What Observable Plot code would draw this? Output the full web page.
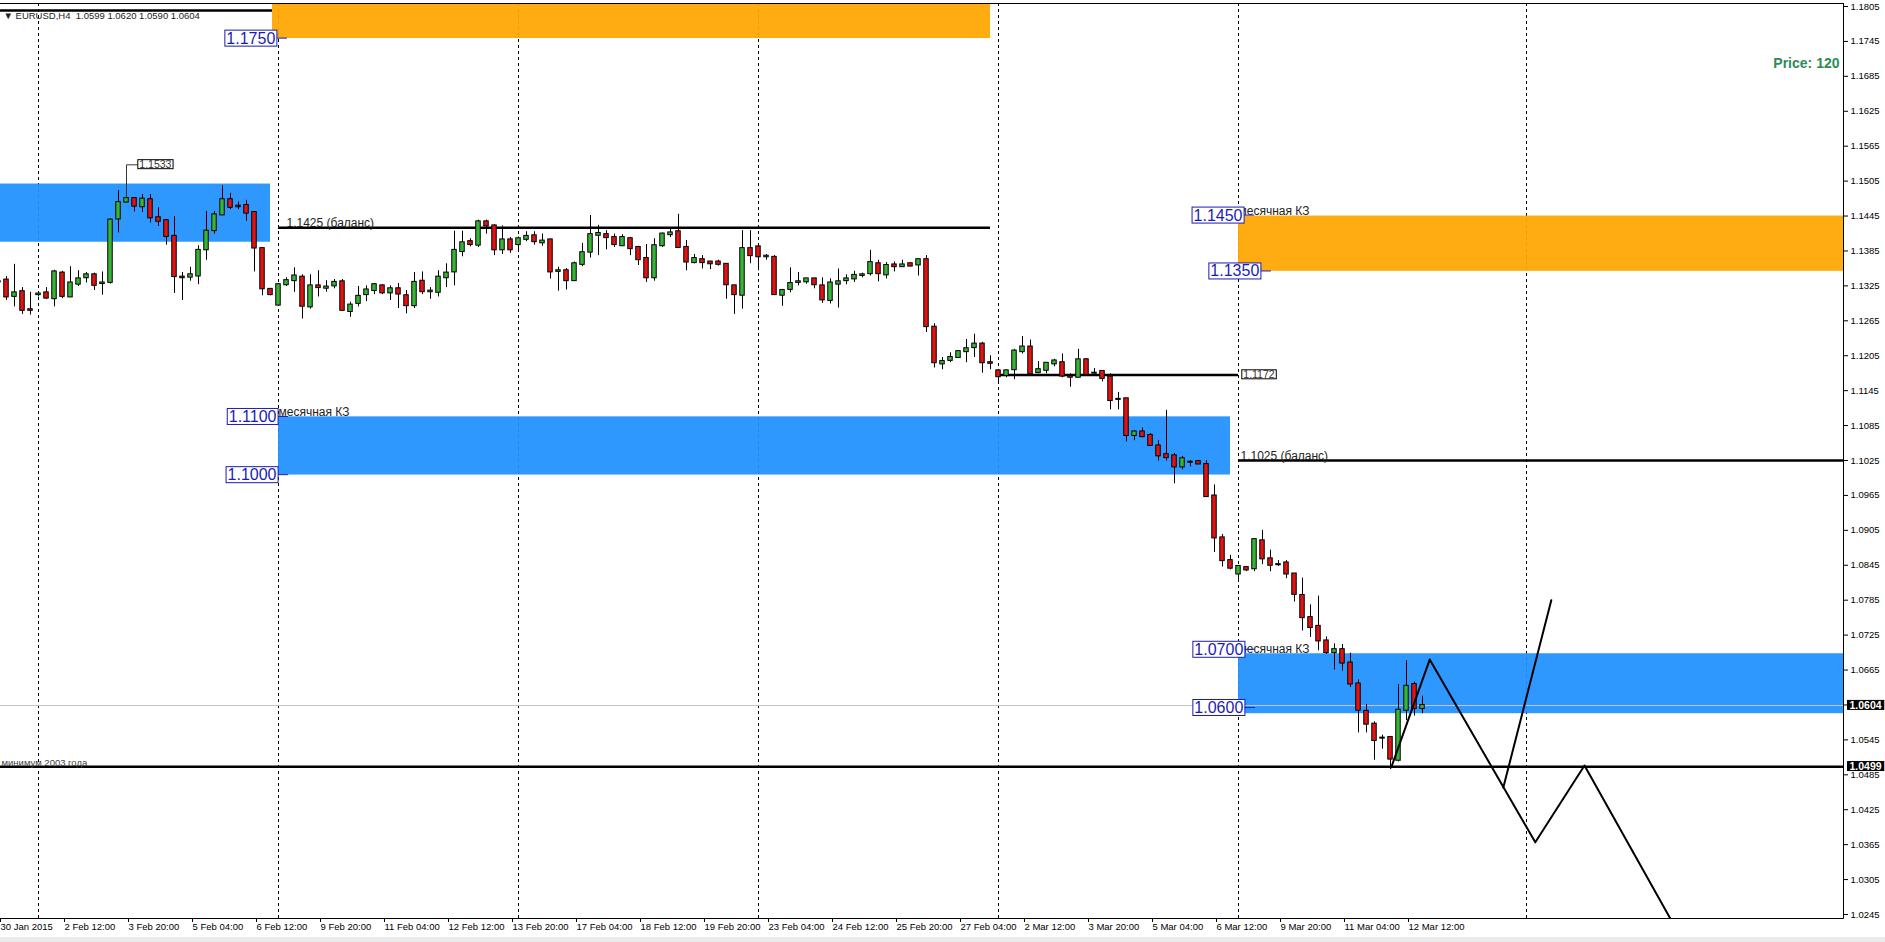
<!DOCTYPE html>
<html><head><meta charset="utf-8">
<script src="https://cdn.jsdelivr.net/npm/d3@7"></script>
<script src="https://cdn.jsdelivr.net/npm/@observablehq/plot@0.6"></script>
<style>
html,body{margin:0;padding:0;background:#fff;overflow:hidden}
#chart svg{display:block}
</style></head><body>
<div id="chart"></div>
<script>
// ---- Data: EURUSD H4, bar index 0 = 2 Feb 2015 00:00 ----
const symbol = "EURUSD,H4";
const firstBar = -5;
const opens = [
1.1332,1.1335,1.1307,1.1315,1.1284,1.1310,1.1313,1.1303,1.1347,1.1306,
1.1328,1.1339,1.1344,1.1329,1.1331,1.1440,1.1469,1.1475,1.1461,1.1473,
1.1442,1.1437,1.1410,1.1340,1.1340,1.1342,1.1387,1.1420,1.1447,1.1473,
1.1462,1.1463,1.1451,1.1389,1.1319,1.1292,1.1327,1.1334,1.1340,1.1289,
1.1325,1.1321,1.1325,1.1332,1.1281,1.1295,1.1310,1.1317,1.1325,1.1313,
1.1320,1.1308,1.1291,1.1333,1.1315,1.1314,1.1339,1.1349,1.1384,1.1401,
1.1395,1.1435,1.1428,1.1387,1.1404,1.1396,1.1405,1.1411,1.1399,1.1404,
1.1350,1.1351,1.1334,1.1362,1.1383,1.1412,1.1413,1.1408,1.1394,1.1406,
1.1391,1.1372,1.1339,1.1394,1.1413,1.1418,1.1391,1.1365,1.1370,1.1366,
1.1366,1.1362,1.1325,1.1309,1.1389,1.1392,1.1375,1.1374,1.1309,1.1319,
1.1331,1.1332,1.1337,1.1325,1.1300,1.1328,1.1334,1.1337,1.1343,1.1346,
1.1363,1.1344,1.1361,1.1358,1.1363,1.1361,1.1370,1.1254,1.1191,1.1197,
1.1202,1.1212,1.1219,1.1225,1.1193,1.1179,1.1171,1.1181,1.1212,1.1220,
1.1176,1.1180,1.1191,1.1193,1.1169,1.1168,1.1198,1.1175,1.1178,1.1168,
1.1130,1.1131,1.1068,1.1074,1.1068,1.1050,1.1035,1.1033,1.1014,1.1022,
1.1023,1.1018,1.0964,1.0892,1.0853,1.0830,1.0841,1.0839,1.0887,1.0856,
1.0846,1.0849,1.0830,1.0793,1.0755,1.0740,1.0715,1.0695,1.0700,1.0677,
1.0641,1.0594,1.0572,1.0548,1.0549,1.0510,1.0596,1.0640,1.0599];
const highs = [
1.1341,1.1341,1.1362,1.1322,1.1314,1.1314,1.1322,1.1352,1.1350,1.1358,
1.1351,1.1348,1.1347,1.1349,1.1440,1.1489,1.1476,1.1476,1.1482,1.1482,
1.1459,1.1438,1.1444,1.1348,1.1357,1.1394,1.1453,1.1453,1.1497,1.1484,
1.1469,1.1472,1.1451,1.1391,1.1320,1.1329,1.1339,1.1356,1.1344,1.1344,
1.1351,1.1334,1.1336,1.1336,1.1297,1.1324,1.1325,1.1329,1.1327,1.1325,
1.1329,1.1317,1.1348,1.1349,1.1322,1.1351,1.1363,1.1419,1.1419,1.1406,
1.1438,1.1438,1.1430,1.1428,1.1408,1.1409,1.1418,1.1418,1.1414,1.1404,
1.1357,1.1355,1.1366,1.1398,1.1446,1.1429,1.1420,1.1414,1.1413,1.1408,
1.1393,1.1396,1.1406,1.1416,1.1422,1.1448,1.1403,1.1379,1.1377,1.1367,
1.1369,1.1363,1.1326,1.1420,1.1420,1.1393,1.1379,1.1377,1.1319,1.1356,
1.1348,1.1337,1.1337,1.1339,1.1337,1.1354,1.1344,1.1350,1.1347,1.1386,
1.1369,1.1365,1.1366,1.1369,1.1364,1.1370,1.1377,1.1260,1.1202,1.1210,
1.1213,1.1233,1.1242,1.1228,1.1205,1.1179,1.1181,1.1216,1.1238,1.1232,
1.1195,1.1192,1.1199,1.1208,1.1174,1.1216,1.1200,1.1183,1.1178,1.1174,
1.1142,1.1131,1.1076,1.1081,1.1071,1.1059,1.1111,1.1037,1.1032,1.1025,
1.1025,1.1025,1.0983,1.0898,1.0862,1.0844,1.0842,1.0891,1.0905,1.0871,
1.0853,1.0853,1.0830,1.0823,1.0777,1.0792,1.0722,1.0710,1.0709,1.0694,
1.0648,1.0606,1.0576,1.0553,1.0551,1.0640,1.0681,1.0644,1.0620];
const lows = [
1.1317,1.1300,1.1289,1.1276,1.1275,1.1306,1.1302,1.1289,1.1303,1.1305,
1.1324,1.1330,1.1317,1.1309,1.1328,1.1416,1.1468,1.1452,1.1451,1.1433,
1.1427,1.1395,1.1312,1.1300,1.1333,1.1327,1.1369,1.1414,1.1447,1.1456,
1.1456,1.1436,1.1349,1.1308,1.1308,1.1291,1.1324,1.1314,1.1268,1.1285,
1.1306,1.1314,1.1320,1.1282,1.1271,1.1289,1.1298,1.1310,1.1310,1.1300,
1.1286,1.1277,1.1286,1.1310,1.1302,1.1306,1.1322,1.1325,1.1375,1.1392,
1.1391,1.1414,1.1377,1.1379,1.1381,1.1383,1.1401,1.1395,1.1393,1.1337,
1.1316,1.1318,1.1333,1.1358,1.1373,1.1377,1.1387,1.1391,1.1394,1.1377,
1.1360,1.1331,1.1333,1.1391,1.1408,1.1390,1.1351,1.1363,1.1354,1.1353,
1.1359,1.1302,1.1276,1.1285,1.1363,1.1351,1.1369,1.1309,1.1290,1.1313,
1.1325,1.1328,1.1320,1.1295,1.1294,1.1287,1.1327,1.1331,1.1339,1.1342,
1.1332,1.1337,1.1349,1.1357,1.1358,1.1342,1.1245,1.1184,1.1181,1.1193,
1.1201,1.1193,1.1202,1.1175,1.1181,1.1160,1.1167,1.1164,1.1208,1.1174,
1.1174,1.1174,1.1186,1.1167,1.1151,1.1168,1.1173,1.1170,1.1160,1.1112,
1.1112,1.1057,1.1059,1.1064,1.1051,1.1024,1.1024,1.0985,1.1009,1.1014,
1.1018,1.0963,1.0867,1.0842,1.0837,1.0819,1.0834,1.0834,1.0846,1.0834,
1.0843,1.0822,1.0782,1.0732,1.0721,1.0698,1.0692,1.0665,1.0663,1.0635,
1.0557,1.0557,1.0510,1.0529,1.0494,1.0507,1.0578,1.0586,1.0590];
const closes = [
1.1332,1.1306,1.1313,1.1283,1.1283,1.1311,1.1304,1.1349,1.1307,1.1330,
1.1337,1.1344,1.1326,1.1330,1.1438,1.1468,1.1475,1.1462,1.1474,1.1442,
1.1436,1.1410,1.1341,1.1339,1.1344,1.1386,1.1419,1.1447,1.1473,1.1460,
1.1461,1.1450,1.1390,1.1320,1.1310,1.1327,1.1334,1.1342,1.1290,1.1325,
1.1322,1.1323,1.1331,1.1283,1.1292,1.1307,1.1318,1.1327,1.1313,1.1320,
1.1311,1.1291,1.1331,1.1315,1.1316,1.1340,1.1347,1.1386,1.1399,1.1396,
1.1435,1.1428,1.1387,1.1404,1.1387,1.1406,1.1410,1.1401,1.1402,1.1349,
1.1351,1.1334,1.1363,1.1382,1.1413,1.1415,1.1408,1.1396,1.1408,1.1389,
1.1370,1.1339,1.1394,1.1414,1.1416,1.1391,1.1366,1.1372,1.1365,1.1363,
1.1362,1.1327,1.1310,1.1389,1.1377,1.1375,1.1376,1.1310,1.1317,1.1329,
1.1332,1.1337,1.1327,1.1301,1.1330,1.1332,1.1337,1.1343,1.1344,1.1365,
1.1346,1.1360,1.1358,1.1361,1.1359,1.1370,1.1255,1.1193,1.1195,1.1202,
1.1212,1.1217,1.1225,1.1193,1.1192,1.1169,1.1179,1.1213,1.1220,1.1174,
1.1181,1.1192,1.1196,1.1170,1.1168,1.1198,1.1173,1.1175,1.1166,1.1128,
1.1130,1.1068,1.1074,1.1066,1.1051,1.1033,1.1030,1.1014,1.1028,1.1022,
1.1019,1.0963,1.0892,1.0853,1.0840,1.0843,1.0837,1.0889,1.0856,1.0845,
1.0846,1.0830,1.0795,1.0755,1.0738,1.0715,1.0695,1.0700,1.0677,1.0641,
1.0596,1.0572,1.0544,1.0548,1.0512,1.0596,1.0637,1.0599,1.0604];

// x-axis tick labels (bar index, text)
const xTickBars = [-5,3,11,19,27,35,43,51,59,67,75,83,91,99,107,115,123,131,139,147,155,163,171];
const xTickText = ["30 Jan 2015","2 Feb 12:00","3 Feb 20:00","5 Feb 04:00","6 Feb 12:00","9 Feb 20:00",
  "11 Feb 04:00","12 Feb 12:00","13 Feb 20:00","17 Feb 04:00","18 Feb 12:00","19 Feb 20:00",
  "23 Feb 04:00","24 Feb 12:00","25 Feb 20:00","27 Feb 04:00","2 Mar 12:00","3 Mar 20:00",
  "5 Mar 04:00","6 Mar 12:00","9 Mar 20:00","11 Mar 04:00","12 Mar 12:00"];
// y-axis tick values
const yTicks = [1.0245,1.0305,1.0365,1.0425,1.0485,1.0545,1.0605,1.0665,1.0725,1.0785,1.0845,1.0905,1.0965,
  1.1025,1.1085,1.1145,1.1205,1.1265,1.1325,1.1385,1.1445,1.1505,1.1565,1.1625,1.1685,1.1745,1.1805];
// weekly period separators (bar index)
const separators = [0,30,60,90,120,150,186];

// zones (bar-index start/end, price low/high)
const zoneStart = [-10, 29.25, 30, 150, 150];
const zoneEnd   = [29, 119, 149, 260, 260];
const zoneLow   = [1.1400, 1.1750, 1.1000, 1.1350, 1.0590];
const zoneHigh  = [1.1500, 1.1850, 1.1100, 1.1445, 1.0693];
const zoneKind  = ["blue","orange","blue","orange","blue"];

// horizontal levels
const levelPrice = [1.1798, 1.1425, 1.1172, 1.1025, 1.0499];
const levelStart = [-10, 30, 120, 150, -10];
const levelEnd   = [29.25, 119, 150, 260, 260];
const currentPrice = 1.0604;

// blue price labels
const blueLabelText  = ["1.1750","1.1100","1.1000","1.1450","1.1350","1.0700","1.0600"];
const blueLabelPrice = [1.1750, 1.1100, 1.1000, 1.1446, 1.1350, 1.0700, 1.0600];
const blueLabelBar   = [29.6, 29.75, 29.75, 150.5, 152.6, 150.6, 150.6];

// captions
const captionText  = ["месячная КЗ","месячная КЗ","месячная КЗ","1.1425 (баланс)","1.1025 (баланс)"];
const captionBar   = [30, 150, 150, 31, 150.25];
const captionPrice = [1.1100, 1.1445, 1.0693, 1.1425, 1.1025];
const minimumText = "минимум 2003 года";
const minimumPrice = 1.0499;

// small boxed notes
const noteText  = ["1.1533","1.1172"];
const notePrice = [1.1533, 1.1172];
const noteBar   = [12.6, 150.6];
const noteFromBar = 11;  // connector from candle 11 high

// forecast zigzag (bar index, price)
const zig1Bar   = [169.1, 173.9, 187.1, 193.25, 204.1];
const zig1Price = [1.0498, 1.0683, 1.0369, 1.0501, 1.0235];
const zig2Bar   = [183.1, 189.1];
const zig2Price = [1.0463, 1.0785];

const priceNote = "Price: 120";

// ---- build tables ----
const bars = opens.map((o, k) => ({i: firstBar + k, open: o, high: highs[k], low: lows[k], close: closes[k]}));
const up = bars.filter(d => d.close >= d.open);
const down = bars.filter(d => d.close < d.open);
const zones = zoneStart.map((s, k) => ({x1: s, x2: zoneEnd[k], y1: zoneLow[k], y2: zoneHigh[k], kind: zoneKind[k]}));
const levels = levelPrice.map((p, k) => ({y: p, x1: levelStart[k], x2: levelEnd[k]}));
const blueLabels = blueLabelText.map((t, k) => ({text: t, y: blueLabelPrice[k], x: blueLabelBar[k]}));
const captions = captionText.map((t, k) => ({text: t, x: captionBar[k], y: captionPrice[k]}));
const notes = noteText.map((t, k) => ({text: t, x: noteBar[k], y: notePrice[k]}));
const noteBarData = bars.find(d => d.i === noteFromBar);
const connector = [{x: noteFromBar, y: noteBarData.high}, {x: noteFromBar, y: notePrice[0]}, {x: noteBar[0] - 0.25, y: notePrice[0]}];
const zig1 = zig1Bar.map((b, k) => ({x: b, y: zig1Price[k]}));
const zig2 = zig2Bar.map((b, k) => ({x: b, y: zig2Price[k]}));
const last = bars[bars.length - 1];
const header = `▼ ${symbol}  ${last.open.toFixed(4)} ${last.high.toFixed(4)} ${last.low.toFixed(4)} ${last.close.toFixed(4)}`;

const BLUE = "#1e90ff", ORANGE = "#ffa500", GREEN = "#36b536", RED = "#e01414";
const FONT = "Liberation Sans, Arial, sans-serif";

const chart = Plot.plot({
  width: 1885, height: 942,
  marginLeft: 0, marginRight: 42, marginTop: 3, marginBottom: 24,
  style: {fontFamily: FONT, fontSize: "9.5px", background: "#fff", color: "#000", overflow: "visible"},
  x: {type: "linear", domain: [0, 200], range: [38, 1638]},
  y: {domain: [1.0245, 1.1805], range: [914, 6]},
  marks: [
    Plot.ruleX(separators, {x: d => d, stroke: "#000", strokeDasharray: "3,3", strokeWidth: 1}),
    Plot.rect(zones, {x1: "x1", x2: "x2", y1: "y1", y2: "y2", fill: d => d.kind === "blue" ? BLUE : ORANGE, fillOpacity: 0.93, clip: true}),
    Plot.ruleY([currentPrice], {y: d => d, stroke: "#c4c4c4", strokeWidth: 1}),
    Plot.ruleY(levels, {y: "y", x1: "x1", x2: "x2", stroke: "#000", strokeWidth: 2.5, clip: true}),
    Plot.ruleX(bars, {x: "i", y1: "low", y2: "high", stroke: "#000", strokeWidth: 1, clip: true}),
    Plot.rect(up, {x1: d => d.i - 0.28, x2: d => d.i + 0.28, y1: "open", y2: "close", fill: GREEN, stroke: "#000", strokeWidth: 1, insetTop: -0.5, insetBottom: -0.5, clip: true}),
    Plot.rect(down, {x1: d => d.i - 0.28, x2: d => d.i + 0.28, y1: "open", y2: "close", fill: RED, stroke: "#000", strokeWidth: 1, insetTop: -0.5, insetBottom: -0.5, clip: true}),
    Plot.line(zig1, {x: "x", y: "y", stroke: "#000", strokeWidth: 2, clip: true}),
    Plot.line(zig2, {x: "x", y: "y", stroke: "#000", strokeWidth: 2, clip: true}),
    Plot.line(connector, {x: "x", y: "y", stroke: "#333", strokeWidth: 1}),
    Plot.text(captions, {x: "x", y: "y", text: "text", textAnchor: "start", lineAnchor: "bottom", dy: -1, fontSize: 12, fill: "#222"}),
    Plot.text([minimumText], {x: -4.75, y: minimumPrice, text: d => d, textAnchor: "start", lineAnchor: "bottom", dx: 1, dy: -1, fontSize: 9.5, fill: "#444"}),
    Plot.text([header], {frameAnchor: "top-left", text: d => d, textAnchor: "start", dx: 3, dy: 9, fontSize: 9.5, fill: "#222"}),
    Plot.text([priceNote], {frameAnchor: "top-right", text: d => d, textAnchor: "end", dx: -4, dy: 55, fontSize: 14, fontWeight: "bold", fill: "#2e8b57"}),
    Plot.text(blueLabels, {x: "x", y: "y", text: "text", textAnchor: "end", fontSize: 16, fill: "#1c1cb4", ariaDescription: "bluebox"}),
    Plot.text(notes, {x: "x", y: "y", text: "text", textAnchor: "start", fontSize: 10.5, fill: "#333", ariaDescription: "notebox"}),
    Plot.axisY(yTicks, {anchor: "right", tickFormat: d => d.toFixed(4), tickSize: 4, tickPadding: 3, fontSize: 9.5}),
    Plot.axisX(xTickBars, {anchor: "bottom", tickFormat: d => xTickText[xTickBars.indexOf(d)], tickSize: 4, tickPadding: 1, textAnchor: "start", dx: 2, fontSize: 9.5}),
    Plot.text([currentPrice, levelPrice[4]], {frameAnchor: "right", y: d => d, text: d => d.toFixed(4), textAnchor: "start", dx: 6, fontSize: 10.5, fontWeight: "bold", fill: "#fff", ariaDescription: "axisbox"})
  ]
});
document.getElementById("chart").append(chart);

// ---- label boxes & frame ----
const NS = "http://www.w3.org/2000/svg";
function boxify(name, fill, stroke, padX, padY, tick, tickColor) {
  const g = chart.querySelector(`g[aria-description="${name}"]`);
  if (!g) return;
  g.querySelectorAll("text").forEach(t => {
    const b = t.getBBox();
    const tr = t.getAttribute("transform");
    const r = document.createElementNS(NS, "rect");
    if (tr) r.setAttribute("transform", tr);
    r.setAttribute("x", b.x - padX); r.setAttribute("y", b.y - padY);
    r.setAttribute("width", b.width + 2 * padX); r.setAttribute("height", b.height + 2 * padY);
    r.setAttribute("fill", fill); r.setAttribute("stroke", stroke); r.setAttribute("stroke-width", 1);
    g.insertBefore(r, t);
    if (tick) {
      const l = document.createElementNS(NS, "line");
      if (tr) l.setAttribute("transform", tr);
      const yy = b.y + b.height / 2;
      l.setAttribute("x1", b.x + b.width + padX); l.setAttribute("x2", b.x + b.width + padX + tick);
      l.setAttribute("y1", yy); l.setAttribute("y2", yy);
      l.setAttribute("stroke", tickColor); l.setAttribute("stroke-width", 1);
      g.insertBefore(l, t);
    }
  });
}
boxify("bluebox", "#fff", "#1c1cb4", 1.5, -0.5, 10, "#1c1cb4");
boxify("notebox", "#fff", "#000", 1.5, -1.5, 0);
boxify("axisbox", "#000", "#000", 2, -1.5, 0);

const svg = d3.select(chart);
svg.append("line").attr("x1", 0).attr("x2", 1843.5).attr("y1", 3.5).attr("y2", 3.5).attr("stroke", "#000");
svg.append("line").attr("x1", 1843.5).attr("x2", 1843.5).attr("y1", 3).attr("y2", 918.5).attr("stroke", "#000");
svg.append("line").attr("x1", 0).attr("x2", 1843.5).attr("y1", 918.5).attr("y2", 918.5).attr("stroke", "#000");
svg.append("rect").attr("x", 0).attr("y", 937).attr("width", 1885).attr("height", 5).attr("fill", "#ececec");
</script>
</body></html>
